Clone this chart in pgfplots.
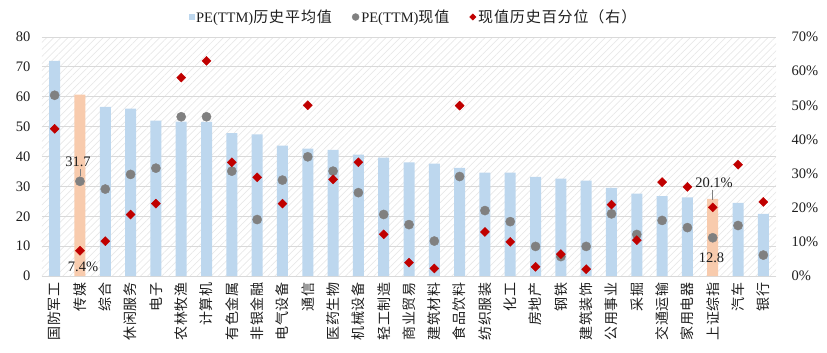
\documentclass[border=0pt]{standalone}
\usepackage{fontspec}
\setmainfont{Liberation Serif}
\newfontfamily\cjk{Noto Sans CJK SC}[LetterSpace=6]
\usepackage{pgfplots}
\usepackage{pgfplotstable}
\pgfplotsset{compat=1.18}
\usetikzlibrary{patterns.meta}
\definecolor{barblue}{RGB}{189,215,238}
\definecolor{barorange}{RGB}{248,203,173}
\definecolor{ptgray}{RGB}{128,128,128}
\definecolor{ptred}{RGB}{192,0,0}
\definecolor{gridgray}{RGB}{217,217,217}
\definecolor{hatch}{RGB}{232,232,232}
\definecolor{txt}{RGB}{30,30,30}
\pgfplotstableread{
x avg cur pct
0 72.0 60.5 43.1
1 60.7 31.7 7.4
2 56.6 29.1 10.2
3 56.0 34.0 18.0
4 52.0 36.1 21.2
5 51.7 53.3 58.1
6 51.6 53.3 63.0
7 47.8 35.1 33.3
8 47.4 18.9 28.9
9 43.6 32.1 21.2
10 42.6 39.9 50.0
11 42.2 35.1 28.3
12 40.6 27.9 33.3
13 39.6 20.6 12.2
14 38.0 17.2 3.9
15 37.6 11.7 2.2
16 36.2 33.3 49.9
17 34.6 21.9 12.9
18 34.6 18.2 10.0
19 33.2 9.9 2.7
20 32.6 6.5 6.4
21 31.9 9.9 2.0
22 29.5 20.8 20.9
23 27.6 13.9 10.5
24 26.7 18.6 27.5
25 26.3 16.2 26.1
26 25.8 12.8 20.1
27 24.5 16.9 32.6
28 20.8 7.0 21.7
}\data
\newcommand\numfont{\rmfamily\fontsize{14.5bp}{16bp}\selectfont}
\newcommand\legcjk{\cjk\fontsize{15bp}{16bp}\selectfont}
\begin{document}
\begin{tikzpicture}
\path[use as bounding box] (-42bp,-77bp) rectangle (785bp,276bp);
\pgfplotsset{
  common/.style={
    at={(0,0)}, anchor=south west,
    scale only axis, width=734bp, height=239bp,
    xmin=-0.5, xmax=28.5,
    major tick length=0pt,
    tick style={draw=none},
    /pgf/number format/assume math mode=true,
    ticklabel style={font=\numfont, text=txt},
  }
}
\begin{axis}[common,
  ymin=0, ymax=80, ytick={0,10,...,80},
  axis x line*=bottom, axis y line*=left,
  y axis line style={draw=none},
  x axis line style={draw=gridgray, line width=1bp},
  ymajorgrids, grid style={gridgray, line width=0.8bp},
  axis background/.style={pattern={Lines[angle=45,distance=5bp,line width=0.7bp]}, pattern color=hatch},
  xtick={0,...,28},
  xticklabels={国防军工,传媒,综合,休闲服务,电子,农林牧渔,计算机,有色金属,非银金融,电气设备,通信,医药生物,机械设备,轻工制造,商业贸易,建筑材料,食品饮料,纺织服装,化工,房地产,钢铁,建筑装饰,公用事业,采掘,交通运输,家用电器,上证综指,汽车,银行},
  x tick label style={font=\cjk\fontsize{14bp}{14bp}\selectfont, rotate=90, anchor=east, inner sep=1bp, xshift=-5bp},
  yticklabel style={xshift=-8bp},
  clip=false,
]
\addplot[ybar, bar width=11bp, bar shift=0pt, fill=barblue, draw=none,
  x filter/.expression={(x==1 || x==26) ? nan : x}, unbounded coords=discard]
  table[x=x, y=avg] {\data};
\addplot[ybar, bar width=11bp, bar shift=0pt, fill=barorange, draw=none]
  coordinates {(1,60.7) (26,25.8)};
\addplot[only marks, mark=*, mark size=4.6bp, color=ptgray] table[x=x, y=cur] {\data};
\node[font=\numfont, text=txt] at (axis cs:0.92,38.3) {31.7};
\draw[ptgray, line width=0.6bp] (axis cs:1,35.9) -- (axis cs:1,33.4);
\node[font=\numfont, text=txt] at (axis cs:1.12,3.0) {7.4\%};
\node[font=\numfont, text=txt] at (axis cs:26.05,31.2) {20.1\%};
\draw[ptgray, line width=0.6bp] (axis cs:26,28.9) -- (axis cs:26,25.4);
\node[font=\numfont, text=txt] at (axis cs:25.95,6.0) {12.8};
\end{axis}
\begin{axis}[common,
  ymin=0, ymax=70, ytick={0,10,...,70},
  axis x line=none, axis y line*=right,
  y axis line style={draw=none},
  yticklabel={\pgfmathprintnumber{\tick}\%},
  yticklabel style={anchor=west, xshift=12bp},
  clip=false,
  legend columns=3,
  legend style={at={(0.506,1)}, anchor=center, yshift=20bp, draw=none, fill=none,
    font=\numfont, text=txt, nodes={inner xsep=2bp},
    /tikz/every even column/.append style={column sep=18bp}},
]
\addlegendimage{legend image code/.code={\fill[barblue] (0bp,-2.6bp) rectangle (5.2bp,2.6bp);}}
\addlegendentry{PE(TTM){\legcjk 历史平均值}}
\addlegendimage{legend image code/.code={\fill[ptgray] (3.5bp,0bp) circle[radius=3.5bp];}}
\addlegendentry{PE(TTM){\legcjk 现值}}
\addplot[only marks, mark=square*, mark size=3.2bp, mark options={rotate=45}, color=ptred,
  legend image code/.code={\fill[ptred] (3.2bp,-3.2bp) -- (6.4bp,0bp) -- (3.2bp,3.2bp) -- (0bp,0bp) -- cycle;}]
  table[x=x, y=pct] {\data};
\addlegendentry{{\legcjk 现值历史百分位（右）}}
\end{axis}
\end{tikzpicture}
\end{document}
